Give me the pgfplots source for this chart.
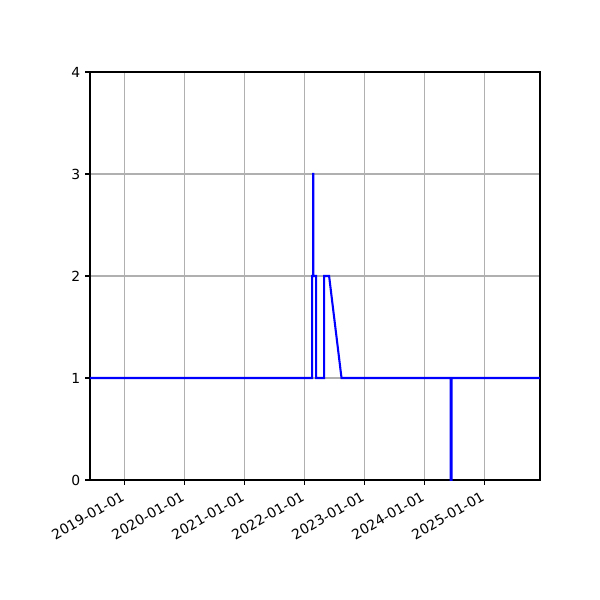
\documentclass[border=0pt]{standalone}
\usepackage{pgfplots}
\pgfplotsset{compat=1.18}
\usepackage{fontspec}
\setmainfont{DejaVu Sans}
\definecolor{gridgray}{HTML}{B0B0B0}
\begin{document}
\begin{tikzpicture}
\path[use as bounding box] (-64.8pt,-86.4pt) rectangle (367.2pt,345.6pt);
\begin{axis}[
    at={(0,0)}, anchor=south west,
    scale only axis,
    width=324pt, height=293.76pt,
    xmin=2018.428, xmax=2025.928,
    ymin=0, ymax=4,
    xtick={2019,2020,2021,2022,2023,2024,2025},
    xticklabels={2019-01-01,2020-01-01,2021-01-01,2022-01-01,2023-01-01,2024-01-01,2025-01-01},
    ytick={0,1,2,3,4},
    xticklabel style={rotate=30, anchor=north east, xshift=-2.5pt, inner sep=2pt, font=\fontsize{10}{12}\selectfont},
    yticklabel style={font=\fontsize{10}{12}\selectfont},
    /pgf/number format/assume math mode=true,
    tick align=outside,
    major tick length=3.5pt,
    tick style={black, line width=0.8pt},
    axis line style={line width=0.8pt},
    grid=major,
    grid style={gridgray, line width=0.8pt},
    xtick pos=bottom, ytick pos=left,
    clip=true,
]
\addplot[color=blue, line width=1.5pt] coordinates {
    (2018.40,1)(2022.130,1)(2022.130,2)(2022.146,2)(2022.146,3)(2022.149,3)(2022.149,2)
    (2022.197,2)(2022.197,1)(2022.330,1)(2022.330,2)(2022.413,2)(2022.620,1)
    (2024.440,1)(2024.440,0)(2024.455,0)(2024.455,1)(2025.95,1)
};
\end{axis}
\end{tikzpicture}
\end{document}
